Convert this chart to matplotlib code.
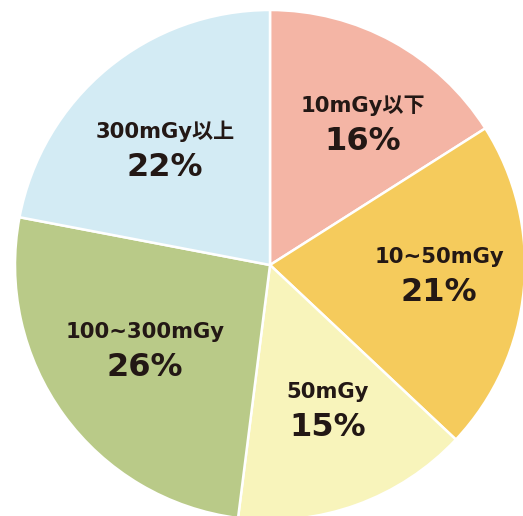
import numpy as np
import matplotlib.pyplot as plt

# dose categories, clockwise from 12 o'clock
labels = ['10mGy以下', '10~50mGy', '50mGy', '100~300mGy', '300mGy以上']
shares = [16, 21, 15, 26, 22]
colors = ['#F4B5A5', '#F5CB5C', '#F8F4BB', '#B9CA88', '#D3EBF4']

# where each text block sits: fraction of radius, and turn from the wedge middle
text_r = [0.669, 0.663, 0.603, 0.588, 0.617]
text_turn = [-4.2, 3.0, 2.2, -2.4, 2.3]

plt.rcParams['font.family'] = ['DejaVu Sans', 'Noto Sans CJK JP']

dpi = 100
fig = plt.figure(figsize=(523 / dpi, 516 / dpi), dpi=dpi)
ax = fig.add_axes([0, 0, 1, 1])

R = 255
wedges, _ = ax.pie(shares, colors=colors, radius=R, startangle=90,
                   counterclock=False, center=(0, 0),
                   wedgeprops=dict(edgecolor='white', linewidth=1.8))

ax.set_xlim(-270, 253)
ax.set_ylim(-251, 265)
ax.set_aspect('equal')
ax.axis('off')

ink = '#231815'
for w, lab, val, r, turn in zip(wedges, labels, shares, text_r, text_turn):
    mid = np.deg2rad((w.theta1 + w.theta2) / 2 + turn)
    x = r * R * np.cos(mid)
    y = r * R * np.sin(mid)
    ax.text(x, y + 9.5, lab, ha='center', va='baseline', fontsize=15.2,
            fontweight='bold', color=ink)
    ax.text(x, y - 28.5, f'{val}%', ha='center', va='baseline', fontsize=23,
            fontweight='bold', color=ink)

fig.savefig('out.png', dpi=dpi)
